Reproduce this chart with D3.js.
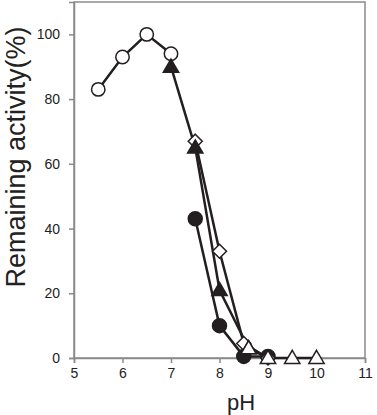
<!DOCTYPE html>
<html>
<head>
<meta charset="utf-8">
<script src="https://cdn.jsdelivr.net/npm/d3@7"></script>
<style>
  body { margin: 0; background: #fff; }
  text { font-family: "Liberation Sans", Arial, sans-serif; }
</style>
</head>
<body>
<div id="chart"></div>
<script>
'use strict';

var xTicks = [5, 6, 7, 8, 9, 10, 11];
var yTicks = [0, 20, 40, 60, 80, 100];

// pH vs remaining activity, one array per buffer
var openCircles = [[5.5, 83], [6, 93], [6.5, 100], [7, 94]];
var filledTriangles = [[7, 90], [7.5, 65], [8, 21], [8.6, 3]];
var openDiamonds = [[7.5, 67], [8, 33], [8.5, 4.5], [9, 0]];
var filledCircles = [[7.5, 43], [8, 10], [8.5, 0.5], [9, 0.5]];
var openTriangles = [[8.6, 3], [9, 0], [9.5, 0], [10, 0]];

var W = 377, H = 415;
var margin = {top: 2, right: 12, bottom: 57, left: 74},
  width = W - margin.left - margin.right,
  height = H - margin.top - margin.bottom;

var ink = "#231f20", axisCol = "#8a8a8a";

var svg = d3.select("#chart").append("svg")
  .attr("width", W)
  .attr("height", H);

var g = svg.append("g")
  .attr("transform", "translate(" + margin.left + "," + margin.top + ")");

var x = d3.scaleLinear().domain([5, 11]).range([0, width]),
  y = d3.scaleLinear().domain([0, 110]).range([height, 0]);

// frame
g.append("rect")
  .attr("width", width).attr("height", height)
  .attr("fill", "none").attr("stroke", axisCol).attr("stroke-width", 1.5);

var xAxis = g.append("g")
  .attr("transform", "translate(0," + height + ")")
  .call(d3.axisBottom(x).tickValues(xTicks).tickFormat(d3.format("d")).tickSize(5).tickPadding(5));
var yAxis = g.append("g")
  .call(d3.axisLeft(y).tickValues(yTicks).tickSize(5).tickPadding(9));

[xAxis, yAxis].forEach(function(a) {
  a.select(".domain").attr("stroke", axisCol).attr("stroke-width", 1.5);
  a.selectAll(".tick line").attr("stroke", axisCol).attr("stroke-width", 1.5);
  a.selectAll(".tick text").attr("fill", "#222").style("font-size", "14px")
    .style("font-family", "'Liberation Sans', Arial, sans-serif");
});

svg.append("text")
  .attr("x", 241).attr("y", 410)
  .attr("text-anchor", "middle")
  .attr("fill", "#222")
  .style("font-size", "22px")
  .text("pH");

svg.append("text")
  .attr("transform", "translate(25,157) rotate(-90)")
  .attr("text-anchor", "middle")
  .attr("fill", "#222")
  .style("font-size", "27px")
  .text("Remaining activity(%)");

var line = d3.line().x((d) => x(d[0])).y((d) => y(d[1]));

var series = [
  {data: openCircles, shape: "circle", fill: "#fff", r: 6.7},
  {data: filledCircles, shape: "circle", fill: ink, r: 7},
  {data: openDiamonds, shape: "diamond", fill: "#fff", r: 7},
  {data: filledTriangles, shape: "triangle", fill: ink, r: 7.3},
  {data: openTriangles, shape: "triangle", fill: "#fff", r: 7.3}
];

// lines first, then markers on top
series.forEach(function(s) {
  g.append("path")
    .datum(s.data)
    .attr("d", line)
    .attr("fill", "none")
    .attr("stroke", ink)
    .attr("stroke-width", 2.5);
});

function markerPath(shape, r) {
  if (shape == "diamond")
    return "M0," + (-r) + "L" + r + ",0L0," + r + "L" + (-r) + ",0Z";
  if (shape == "triangle")
    return "M0," + (-r * 1.05) + "L" + (r * 1.05) + "," + (r * 0.75) + "L" + (-r * 1.05) + "," + (r * 0.75) + "Z";
  return null;
}

series.forEach(function(s) {
  var m = g.append("g").selectAll(".m").data(s.data).enter();
  if (s.shape == "circle") {
    m.append("circle")
      .attr("cx", (d) => x(d[0]))
      .attr("cy", (d) => y(d[1]))
      .attr("r", s.r)
      .attr("fill", s.fill)
      .attr("stroke", ink)
      .attr("stroke-width", 1.5);
  } else {
    m.append("path")
      .attr("transform", (d) => "translate(" + x(d[0]) + "," + y(d[1]) + ")")
      .attr("d", markerPath(s.shape, s.r))
      .attr("fill", s.fill)
      .attr("stroke", ink)
      .attr("stroke-width", 1.5)
      .attr("stroke-linejoin", "miter");
  }
});
</script>
</body>
</html>
